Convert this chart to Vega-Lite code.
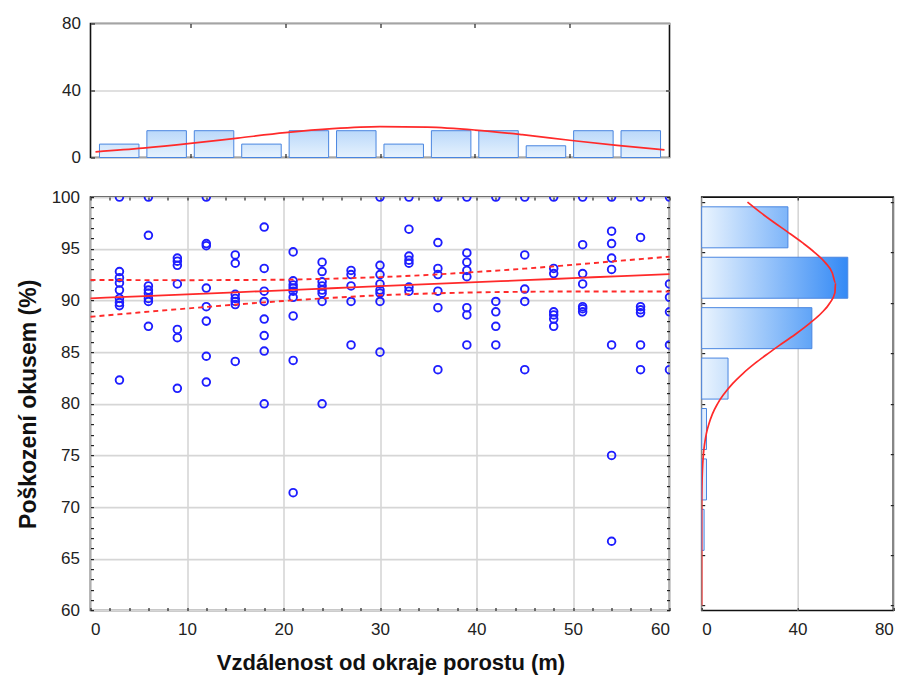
{
  "$schema": "https://vega.github.io/schema/vega-lite/v6.json",
  "background": "white",
  "padding": {"left": 15.5, "top": 13.5, "right": 5, "bottom": 0},
  "config": {
    "font": "Liberation Sans",
    "view": {"stroke": "#111", "strokeWidth": 1.6},
    "axis": {
      "labelFont": "Liberation Sans", "labelFontSize": 17, "labelColor": "#222",
      "titleFont": "Liberation Sans", "titleFontSize": 22, "titleFontWeight": "bold", "titleColor": "#111",
      "domain": false, "tickColor": "#222", "tickWidth": 1.2,
      "gridColor": "#d6d6d6", "gridWidth": 1.6, "labelOverlap": false, "labelBound": false
    }
  },
  "datasets": {
    "pts": [
      {"d": 3, "p": 100}, {"d": 3, "p": 92.8}, {"d": 3, "p": 92.2}, {"d": 3, "p": 91.7}, {"d": 3, "p": 91.0}, {"d": 3, "p": 90.2}, {"d": 3, "p": 89.8}, {"d": 3, "p": 89.5}, {"d": 3, "p": 82.3},
      {"d": 6, "p": 100}, {"d": 6, "p": 96.3}, {"d": 6, "p": 91.4}, {"d": 6, "p": 91.0}, {"d": 6, "p": 90.7}, {"d": 6, "p": 90.2}, {"d": 6, "p": 89.9}, {"d": 6, "p": 87.5},
      {"d": 9, "p": 94.1}, {"d": 9, "p": 93.8}, {"d": 9, "p": 93.4}, {"d": 9, "p": 91.6}, {"d": 9, "p": 87.2}, {"d": 9, "p": 86.4}, {"d": 9, "p": 81.5},
      {"d": 12, "p": 100}, {"d": 12, "p": 95.5}, {"d": 12, "p": 95.3}, {"d": 12, "p": 91.2}, {"d": 12, "p": 89.4}, {"d": 12, "p": 88.0}, {"d": 12, "p": 84.6}, {"d": 12, "p": 82.1},
      {"d": 15, "p": 94.4}, {"d": 15, "p": 93.6}, {"d": 15, "p": 90.6}, {"d": 15, "p": 90.2}, {"d": 15, "p": 89.9}, {"d": 15, "p": 89.6}, {"d": 15, "p": 84.1},
      {"d": 18, "p": 97.1}, {"d": 18, "p": 93.1}, {"d": 18, "p": 90.9}, {"d": 18, "p": 89.9}, {"d": 18, "p": 88.2}, {"d": 18, "p": 86.6}, {"d": 18, "p": 85.1}, {"d": 18, "p": 80.0},
      {"d": 21, "p": 94.7}, {"d": 21, "p": 91.9}, {"d": 21, "p": 91.5}, {"d": 21, "p": 91.2}, {"d": 21, "p": 90.9}, {"d": 21, "p": 90.3}, {"d": 21, "p": 88.5}, {"d": 21, "p": 84.2}, {"d": 21, "p": 71.4},
      {"d": 24, "p": 93.7}, {"d": 24, "p": 92.8}, {"d": 24, "p": 91.8}, {"d": 24, "p": 91.4}, {"d": 24, "p": 91.0}, {"d": 24, "p": 90.7}, {"d": 24, "p": 89.9}, {"d": 24, "p": 80.0},
      {"d": 27, "p": 92.9}, {"d": 27, "p": 92.5}, {"d": 27, "p": 91.4}, {"d": 27, "p": 89.9}, {"d": 27, "p": 85.7},
      {"d": 30, "p": 100}, {"d": 30, "p": 93.4}, {"d": 30, "p": 92.5}, {"d": 30, "p": 91.6}, {"d": 30, "p": 91.0}, {"d": 30, "p": 90.7}, {"d": 30, "p": 89.9}, {"d": 30, "p": 85.0},
      {"d": 33, "p": 100}, {"d": 33, "p": 96.9}, {"d": 33, "p": 94.3}, {"d": 33, "p": 93.9}, {"d": 33, "p": 93.6}, {"d": 33, "p": 91.3}, {"d": 33, "p": 90.9},
      {"d": 36, "p": 100}, {"d": 36, "p": 95.6}, {"d": 36, "p": 93.1}, {"d": 36, "p": 92.5}, {"d": 36, "p": 90.9}, {"d": 36, "p": 89.3}, {"d": 36, "p": 83.3},
      {"d": 39, "p": 100}, {"d": 39, "p": 94.6}, {"d": 39, "p": 93.7}, {"d": 39, "p": 92.9}, {"d": 39, "p": 92.3}, {"d": 39, "p": 89.3}, {"d": 39, "p": 88.6}, {"d": 39, "p": 85.7},
      {"d": 42, "p": 100}, {"d": 42, "p": 89.9}, {"d": 42, "p": 88.9}, {"d": 42, "p": 87.5}, {"d": 42, "p": 85.7},
      {"d": 45, "p": 100}, {"d": 45, "p": 94.4}, {"d": 45, "p": 91.1}, {"d": 45, "p": 89.9}, {"d": 45, "p": 83.3},
      {"d": 48, "p": 100}, {"d": 48, "p": 93.1}, {"d": 48, "p": 92.6}, {"d": 48, "p": 88.9}, {"d": 48, "p": 88.6}, {"d": 48, "p": 88.2}, {"d": 48, "p": 87.5},
      {"d": 51, "p": 100}, {"d": 51, "p": 95.4}, {"d": 51, "p": 92.6}, {"d": 51, "p": 91.6}, {"d": 51, "p": 89.4}, {"d": 51, "p": 89.2}, {"d": 51, "p": 88.9},
      {"d": 54, "p": 100}, {"d": 54, "p": 96.7}, {"d": 54, "p": 95.5}, {"d": 54, "p": 94.1}, {"d": 54, "p": 93.0}, {"d": 54, "p": 85.7}, {"d": 54, "p": 75.0}, {"d": 54, "p": 66.7},
      {"d": 57, "p": 100}, {"d": 57, "p": 96.1}, {"d": 57, "p": 89.4}, {"d": 57, "p": 89.1}, {"d": 57, "p": 88.8}, {"d": 57, "p": 85.7}, {"d": 57, "p": 83.3},
      {"d": 60, "p": 100}, {"d": 60, "p": 91.6}, {"d": 60, "p": 90.3}, {"d": 60, "p": 88.9}, {"d": 60, "p": 85.7}, {"d": 60, "p": 83.3}
    ],
    "fit": [
      {"d": 0, "fit": 90.20, "hi": 91.98, "lo": 88.42},
      {"d": 5, "fit": 90.40, "hi": 91.97, "lo": 88.83},
      {"d": 10, "fit": 90.59, "hi": 91.96, "lo": 89.22},
      {"d": 15, "fit": 90.79, "hi": 91.98, "lo": 89.60},
      {"d": 20, "fit": 90.98, "hi": 92.01, "lo": 89.95},
      {"d": 25, "fit": 91.18, "hi": 92.11, "lo": 90.25},
      {"d": 30, "fit": 91.38, "hi": 92.26, "lo": 90.50},
      {"d": 35, "fit": 91.57, "hi": 92.47, "lo": 90.67},
      {"d": 40, "fit": 91.77, "hi": 92.76, "lo": 90.78},
      {"d": 45, "fit": 91.96, "hi": 93.08, "lo": 90.84},
      {"d": 50, "fit": 92.16, "hi": 93.45, "lo": 90.87},
      {"d": 55, "fit": 92.36, "hi": 93.85, "lo": 90.87},
      {"d": 60, "fit": 92.55, "hi": 94.24, "lo": 90.86}
    ],
    "topbars": [
      {"mid": 2.5, "n": 8}, {"mid": 7.5, "n": 16}, {"mid": 12.5, "n": 16}, {"mid": 17.5, "n": 8},
      {"mid": 22.5, "n": 16}, {"mid": 27.5, "n": 16}, {"mid": 32.5, "n": 8}, {"mid": 37.5, "n": 16},
      {"mid": 42.5, "n": 16}, {"mid": 47.5, "n": 7}, {"mid": 52.5, "n": 16}, {"mid": 57.5, "n": 16}
    ],
    "topcurve": [
      {"d": 0, "n": 3.4}, {"d": 5, "n": 5.6}, {"d": 10, "n": 8.4}, {"d": 15, "n": 11.6}, {"d": 20, "n": 14.8},
      {"d": 25, "n": 17.2}, {"d": 30, "n": 18.4}, {"d": 35, "n": 18.1}, {"d": 40, "n": 16.4}, {"d": 45, "n": 13.6},
      {"d": 50, "n": 10.3}, {"d": 55, "n": 7.2}, {"d": 60, "n": 4.6}
    ],
    "rightbars": [
      {"mid": 97.5, "n": 36}, {"mid": 92.5, "n": 61}, {"mid": 87.5, "n": 46}, {"mid": 82.5, "n": 11},
      {"mid": 77.5, "n": 2}, {"mid": 72.5, "n": 2}, {"mid": 67.5, "n": 1}
    ],
    "rightcurve": [
      {"p": 60, "n": 0}, {"p": 65, "n": 0.01}, {"p": 70, "n": 0.03}, {"p": 72, "n": 0.13}, {"p": 73, "n": 0.24},
      {"p": 74, "n": 0.42}, {"p": 75, "n": 0.72}, {"p": 76, "n": 1.2}, {"p": 77, "n": 1.9}, {"p": 78, "n": 3.0},
      {"p": 79, "n": 4.5}, {"p": 80, "n": 6.6}, {"p": 81, "n": 9.4}, {"p": 82, "n": 12.9}, {"p": 83, "n": 17.2},
      {"p": 84, "n": 22.2}, {"p": 85, "n": 27.8}, {"p": 86, "n": 33.7}, {"p": 87, "n": 39.7}, {"p": 88, "n": 45.2},
      {"p": 89, "n": 50.0}, {"p": 90, "n": 53.5}, {"p": 91, "n": 55.6}, {"p": 92, "n": 55.9}, {"p": 93, "n": 54.5},
      {"p": 94, "n": 51.6}, {"p": 95, "n": 47.2}, {"p": 96, "n": 41.9}, {"p": 97, "n": 36.1}, {"p": 98, "n": 30.1},
      {"p": 99, "n": 24.4}, {"p": 100, "n": 19.1}
    ]
  },
  "bounds": "flush",
  "spacing": 39.6,
  "vconcat": [
    {
      "width": 579,
      "height": 134,
      "layer": [
        {
          "data": {"name": "topbars"},
          "mark": {"type": "bar", "orient": "vertical", "width": 39.5, "stroke": "#4a86e0", "strokeWidth": 1},
          "encoding": {
            "x": {"field": "mid", "type": "quantitative", "scale": {"domain": [0, 60], "nice": false, "zero": false},
                  "axis": {"orient": "bottom", "values": [10, 20, 30, 40, 50], "labels": false, "grid": false, "tickSize": -4, "title": null}},
            "y": {"field": "n", "type": "quantitative", "scale": {"domain": [0, 80], "nice": false},
                  "axis": {"orient": "left", "values": [0, 40, 80], "grid": true, "tickSize": -4, "labelPadding": 14, "title": null}},
            "fill": {
              "condition": {"test": "datum.n >= 12", "value": {"gradient": "linear", "x1": 0, "y1": 0, "x2": 0, "y2": 1, "stops": [{"offset": 0, "color": "#bad8fa"}, {"offset": 1, "color": "#e6f2fd"}]}},
              "value": {"gradient": "linear", "x1": 0, "y1": 0, "x2": 0, "y2": 1, "stops": [{"offset": 0, "color": "#d0e5fc"}, {"offset": 1, "color": "#e8f3fe"}]}
            }
          }
        },
        {
          "data": {"name": "topcurve"},
          "mark": {"type": "line", "color": "#ff2a2a", "strokeWidth": 1.7, "interpolate": "monotone", "clip": true},
          "encoding": {
            "x": {"field": "d", "type": "quantitative",
                  "axis": {"orient": "top", "values": [10, 20, 30, 40, 50], "labels": false, "grid": false, "tickSize": -4, "title": null}},
            "y": {"field": "n", "type": "quantitative",
                  "axis": {"orient": "right", "values": [40], "labels": false, "grid": false, "tickSize": -4, "title": null}}
          }
        }
      ],
      "resolve": {"axis": {"x": "independent", "y": "independent"}}
    },
    {
      "bounds": "flush",
      "spacing": 32.2,
      "hconcat": [
        {
          "width": 579,
          "height": 413.4,
          "layer": [
            {
              "data": {"name": "pts"},
              "mark": {"type": "point", "filled": false, "color": "#1e1eff", "opacity": 1, "size": 58, "strokeWidth": 1.9, "clip": true},
              "encoding": {
                "x": {"field": "d", "type": "quantitative", "scale": {"domain": [0, 60], "nice": false, "zero": false},
                      "axis": {"orient": "bottom", "values": [0, 2, 4, 6, 8, 10, 12, 14, 16, 18, 20, 22, 24, 26, 28, 30, 32, 34, 36, 38, 40, 42, 44, 46, 48, 50, 52, 54, 56, 58, 60],
                               "labelExpr": "datum.value % 10 === 0 ? datum.label : ''",
                               "grid": true, "gridOpacity": {"condition": {"test": "datum.value % 10 === 0", "value": 1}, "value": 0},
                               "tickSize": -3, "labelPadding": 14,
                               "title": "Vzdálenost od okraje porostu (m)", "titleFontSize": 22, "titlePadding": 15, "titleX": 300}},
                "y": {"field": "p", "type": "quantitative", "scale": {"domain": [60, 100], "nice": false, "zero": false},
                      "axis": {"orient": "left", "values": [60, 61, 62, 63, 64, 65, 66, 67, 68, 69, 70, 71, 72, 73, 74, 75, 76, 77, 78, 79, 80, 81, 82, 83, 84, 85, 86, 87, 88, 89, 90, 91, 92, 93, 94, 95, 96, 97, 98, 99, 100],
                               "labelExpr": "datum.value % 5 === 0 ? datum.label : ''",
                               "grid": true, "gridOpacity": {"condition": {"test": "datum.value % 5 === 0", "value": 1}, "value": 0},
                               "tickSize": -3, "labelPadding": 14,
                               "title": "Poškození okusem (%)", "titleFontSize": 23, "titlePadding": 11}}
              }
            },
            {
              "data": {"name": "fit"},
              "mark": {"type": "line", "color": "#ff2a2a", "strokeWidth": 1.8, "interpolate": "monotone"},
              "encoding": {
                "x": {"field": "d", "type": "quantitative",
                      "axis": {"orient": "top", "values": [0, 2, 4, 6, 8, 10, 12, 14, 16, 18, 20, 22, 24, 26, 28, 30, 32, 34, 36, 38, 40, 42, 44, 46, 48, 50, 52, 54, 56, 58, 60], "labels": false, "grid": false, "tickSize": -3, "title": null}},
                "y": {"field": "fit", "type": "quantitative",
                      "axis": {"orient": "right", "values": [60, 61, 62, 63, 64, 65, 66, 67, 68, 69, 70, 71, 72, 73, 74, 75, 76, 77, 78, 79, 80, 81, 82, 83, 84, 85, 86, 87, 88, 89, 90, 91, 92, 93, 94, 95, 96, 97, 98, 99, 100], "labels": false, "grid": false, "tickSize": -3, "title": null}}
              }
            },
            {
              "data": {"name": "fit"},
              "mark": {"type": "line", "color": "#ff2a2a", "strokeWidth": 1.9, "strokeDash": [5, 4], "interpolate": "monotone"},
              "encoding": {
                "x": {"field": "d", "type": "quantitative", "axis": null},
                "y": {"field": "hi", "type": "quantitative", "axis": null}
              }
            },
            {
              "data": {"name": "fit"},
              "mark": {"type": "line", "color": "#ff2a2a", "strokeWidth": 1.9, "strokeDash": [5, 4], "interpolate": "monotone"},
              "encoding": {
                "x": {"field": "d", "type": "quantitative", "axis": null},
                "y": {"field": "lo", "type": "quantitative", "axis": null}
              }
            }
          ],
          "resolve": {"axis": {"x": "independent", "y": "independent"}}
        },
        {
          "width": 191.6,
          "height": 413.4,
          "layer": [
            {
              "data": {"name": "rightbars"},
              "mark": {"type": "bar", "orient": "horizontal", "height": 41, "stroke": "#4a86e0", "strokeWidth": 1},
              "encoding": {
                "x": {"field": "n", "type": "quantitative", "scale": {"domain": [0, 80], "nice": false},
                      "axis": {"orient": "bottom", "values": [0, 40, 80], "grid": true, "tickSize": -3, "labelPadding": 14, "title": null}},
                "y": {"field": "mid", "type": "quantitative", "scale": {"domain": [60, 100], "nice": false, "zero": false},
                      "axis": {"orient": "left", "values": [60, 65, 70, 75, 80, 85, 90, 95, 100], "labels": false, "grid": false, "tickSize": -3, "title": null}},
                "fill": {
                  "condition": [
                    {"test": "datum.n >= 55", "value": {"gradient": "linear", "x1": 0, "y1": 0, "x2": 1, "y2": 0, "stops": [{"offset": 0, "color": "#eaf4fe"}, {"offset": 1, "color": "#3389f5"}]}},
                    {"test": "datum.n >= 40", "value": {"gradient": "linear", "x1": 0, "y1": 0, "x2": 1, "y2": 0, "stops": [{"offset": 0, "color": "#eaf4fe"}, {"offset": 1, "color": "#60a4f7"}]}},
                    {"test": "datum.n >= 30", "value": {"gradient": "linear", "x1": 0, "y1": 0, "x2": 1, "y2": 0, "stops": [{"offset": 0, "color": "#eaf4fe"}, {"offset": 1, "color": "#7eb5f9"}]}},
                    {"test": "datum.n >= 5", "value": {"gradient": "linear", "x1": 0, "y1": 0, "x2": 1, "y2": 0, "stops": [{"offset": 0, "color": "#eaf4fe"}, {"offset": 1, "color": "#c9e1fc"}]}}
                  ],
                  "value": "#e2eefd"
                }
              }
            },
            {
              "data": {"name": "rightcurve"},
              "mark": {"type": "line", "color": "#ff2a2a", "strokeWidth": 1.7, "interpolate": "monotone", "clip": true},
              "encoding": {
                "x": {"field": "n", "type": "quantitative",
                      "axis": {"orient": "top", "values": [40], "labels": false, "grid": false, "tickSize": -3, "title": null}},
                "y": {"field": "p", "type": "quantitative",
                      "axis": {"orient": "right", "values": [60, 65, 70, 75, 80, 85, 90, 95, 100], "labels": false, "grid": false, "tickSize": -3, "title": null}},
                "order": {"field": "p", "type": "quantitative"}
              }
            }
          ],
          "resolve": {"axis": {"x": "independent", "y": "independent"}}
        }
      ]
    }
  ]
}
